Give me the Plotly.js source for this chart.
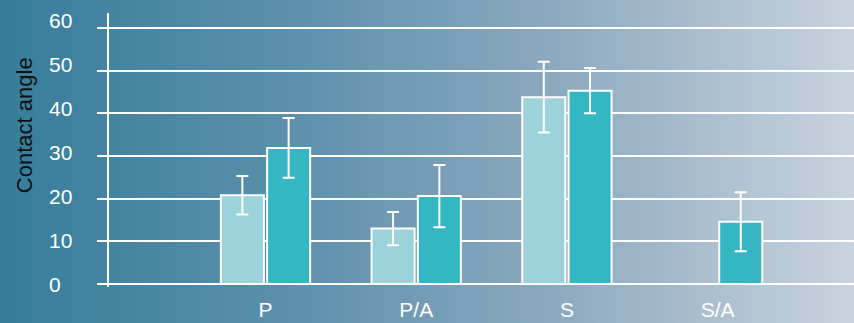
<!DOCTYPE html>
<html>
<head>
<meta charset="utf-8">
<script src="https://cdn.plot.ly/plotly-3.0.1.min.js"></script>
<style>
  html, body { margin: 0; padding: 0; }
  #chart {
    width: 854px; height: 323px;
    background: linear-gradient(to right, #367d9b 0%, #5a8fab 33%, #8eaac0 66%, #c8d3de 100%);
  }
</style>
</head>
<body>
<div id="chart"></div>
<script>
// Contact angle per surface treatment, two measurement series with standard deviations
const categories = ['P', 'P/A', 'S', 'S/A'];
const seriesA = [20.8, 13.0, 43.8, null];
const errorsA = [4.5, 3.9, 8.3, null];
const seriesB = [31.9, 20.6, 45.3, 14.6];
const errorsB = [7.0, 7.3, 5.3, 6.9];
const yTicks = [0, 10, 20, 30, 40, 50, 60];

const outline = { color: '#ffffff', width: 2 };
const errStyle = { type: 'data', visible: true, color: '#ffffff', thickness: 2, width: 6 };

const traces = [
  {
    type: 'bar', x: categories, y: seriesA, name: 'A',
    marker: { color: '#9cd3da', line: outline },
    error_y: Object.assign({ array: errorsA }, errStyle)
  },
  {
    type: 'bar', x: categories, y: seriesB, name: 'B',
    marker: { color: '#35b6c3', line: outline },
    error_y: Object.assign({ array: errorsB }, errStyle)
  }
];

// Tick labels are set left-aligned in a column on a slightly looser scale than the grid
const tickLabels = yTicks.map(v => ({
  xref: 'paper', yref: 'y2', x: -0.083, y: v, xanchor: 'left', yanchor: 'middle',
  text: String(v), showarrow: false,
  font: { family: 'Liberation Sans, Arial, sans-serif', size: 21, color: '#ffffff' }
}));

const layout = {
  width: 854, height: 323,
  margin: { l: 109, r: 0, t: 13, b: 36 },
  paper_bgcolor: 'rgba(0,0,0,0)',
  plot_bgcolor: 'rgba(0,0,0,0)',
  showlegend: false,
  barmode: 'group',
  bargap: 0.386,
  bargroupgap: 0.07,
  xaxis: {
    type: 'category',
    range: [-1.0385, 3.905],
    showgrid: false, zeroline: false, showline: false, ticks: '',
    ticklabelstandoff: 8,
    tickfont: { family: 'Liberation Sans, Arial, sans-serif', size: 21, color: '#ffffff' }
  },
  yaxis: {
    range: [-0.70, 63.52],
    tickvals: yTicks,
    showticklabels: false,
    ticks: 'outside', ticklen: 10, tickwidth: 2, tickcolor: '#ffffff',
    showgrid: true, gridcolor: '#ffffff', gridwidth: 2,
    zeroline: false,
    showline: true, linecolor: '#ffffff', linewidth: 2
  },
  yaxis2: {
    overlaying: 'y', side: 'left',
    range: [-0.684, 61.76],
    showgrid: false, zeroline: false, showline: false,
    showticklabels: false, ticks: ''
  },
  annotations: tickLabels.concat([{
    xref: 'paper', yref: 'paper', x: -0.114, y: 0.591,
    xanchor: 'center', yanchor: 'middle', textangle: -90,
    text: 'Contact angle', showarrow: false,
    font: { family: 'Liberation Sans, Arial, sans-serif', size: 22, color: '#111111' }
  }])
};

Plotly.newPlot('chart', traces, layout, { staticPlot: true, displayModeBar: false });
</script>
</body>
</html>
